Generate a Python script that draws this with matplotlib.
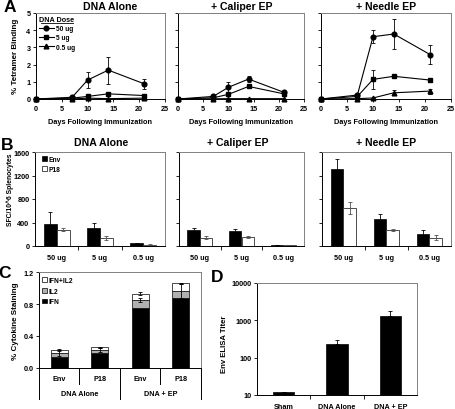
import numpy as np
import matplotlib
matplotlib.use('Agg')
from matplotlib import pyplot as plt
from matplotlib.lines import Line2D
import matplotlib.transforms as mtransforms

plt.rcParams['font.family'] = ['Liberation Sans', 'DejaVu Sans']
plt.rcParams['font.weight'] = 'bold'
plt.rcParams['axes.labelweight'] = 'bold'
plt.rcParams['axes.linewidth'] = 0.7

# ---- data: panel A, % tetramer binding ----
days = [0, 7, 10, 14, 21]
doses = ['50 ug', '5 ug', '0.5 ug']
tet_alone = [[0, 0.10, 1.10, 1.68, 0.88], [0, 0.05, 0.15, 0.30, 0.20], [0, 0.00, 0.05, 0.02, 0.05]]
tet_alone_err = [[0, 0.05, 0.47, 0.78, 0.27], [0, 0.02, 0.08, 0.08, 0.07], [0, 0, 0.02, 0.02, 0.02]]
tet_caliper = [[0, 0.15, 0.68, 1.16, 0.39], [0, 0.07, 0.27, 0.73, 0.30], [0, 0.01, 0.02, 0.02, 0.02]]
tet_caliper_err = [[0, 0.05, 0.28, 0.20, 0.08], [0, 0.03, 0.05, 0.10, 0.06], [0, 0, 0, 0, 0]]
tet_needle = [[0, 0.23, 3.62, 3.78, 2.58], [0, 0.15, 1.14, 1.32, 1.10], [0, 0.02, 0.06, 0.36, 0.46]]
tet_needle_err = [[0, 0.05, 0.38, 0.85, 0.55], [0, 0.05, 0.57, 0.10, 0.10], [0, 0.01, 0.02, 0.14, 0.15]]

# ---- data: panel B, SFC/10^6 splenocytes ----
sfc_groups = ['50 ug', '5 ug', '0.5 ug']
sfc_alone_env = [371, 314, 46]
sfc_alone_env_err = [210, 72, 12]
sfc_alone_p18 = [280, 131, 25]
sfc_alone_p18_err = [30, 35, 5]
sfc_caliper_env = [274, 257, 15]
sfc_caliper_env_err = [35, 35, 5]
sfc_caliper_p18 = [143, 154, 10]
sfc_caliper_p18_err = [20, 12, 3]
sfc_needle_env = [1313, 468, 211]
sfc_needle_env_err = [172, 75, 57]
sfc_needle_p18 = [645, 274, 143]
sfc_needle_p18_err = [97, 12, 40]

# ---- data: panel C, % cytokine staining ----
cyto_cats = ['Env', 'P18', 'Env', 'P18']
cyto_groups = ['DNA Alone', 'DNA + EP']
ifn = [0.14, 0.19, 0.75, 0.875]
il2 = [0.05, 0.04, 0.10, 0.085]
ifn_il2 = [0.035, 0.03, 0.08, 0.10]
il2_err = [0.04, 0.025, 0.03, 0.085]
tot_err = [0.012, 0.006, 0.015, 0.008]

# ---- data: panel D, Env ELISA titer ----
titer_cats = ['Sham', 'DNA Alone', 'DNA + EP']
titer = [12, 230, 1300]
titer_err = [0, 64, 470]

W, H = 456, 410
fig = plt.figure(figsize=(W / 100, H / 100), dpi=100)


def ax_px(l, t, r, b):
    return fig.add_axes([l / W, 1 - b / H, (r - l) / W, (b - t) / H])


def ftext(x, y, s, **kw):
    return fig.text(x / W, 1 - y / H, s, ha='center', va='center', **kw)


def frame(ax):
    for s in ['top', 'right']:
        ax.spines[s].set_color('#808080')
    ax.tick_params(direction='out', length=2.5, width=0.6, labelsize=5.2, pad=1.5)


TS = 5.2
markers = ['o', 's', '^']

# panel A
a_boxes = [(36, 14, 165, 100), (178, 14, 304, 100), (321, 14, 451, 100)]
a_data = [(tet_alone, tet_alone_err), (tet_caliper, tet_caliper_err), (tet_needle, tet_needle_err)]
a_titles = [(110, 'DNA Alone'), (242, '+ Caliper EP'), (386, '+ Needle EP')]
for i, box in enumerate(a_boxes):
    ax = ax_px(*box)
    vals, errs = a_data[i]
    hnd = []
    for j in range(3):
        ax.errorbar(days, vals[j], yerr=errs[j], color='black', marker=markers[j],
                    ms=3.4, lw=0.8, elinewidth=0.6, capsize=1.4, capthick=0.6, clip_on=False)
        hnd.append(Line2D([], [], color='black', marker=markers[j], ms=3.4, lw=0.8))
    ax.set_xlim(0, 25)
    ax.set_ylim(0, 5)
    ax.set_xticks([0, 5, 10, 15, 20, 25])
    ax.set_yticks([0, 1, 2, 3, 4, 5])
    frame(ax)
    if i > 0:
        ax.set_yticklabels([])
    ax.set_xlabel('Days Following Immunization', fontsize=5.3, labelpad=5)
    ftext(a_titles[i][0], 7, a_titles[i][1], fontsize=7.6)
    if i == 0:
        ax.legend(hnd, doses, loc='upper left', bbox_to_anchor=(39 / W, 1 - 26 / H),
                  bbox_transform=fig.transFigure, frameon=False, fontsize=4.8,
                  handlelength=2.2, handletextpad=0.3, labelspacing=0.35,
                  borderpad=0, borderaxespad=0)
        ftext(57, 20, 'DNA Dose', fontsize=5.2)
        fig.add_artist(Line2D([41 / W, 73 / W], [1 - 24 / H, 1 - 24 / H], color='black', lw=0.6))

ftext(10, 8, 'A', fontsize=12.5)
fig.text(16 / W, 1 - 56 / H, '% Tetramer Binding', rotation=90, ha='center', va='center', fontsize=5.8)

# panel B
b_boxes = [(35, 153, 165, 247), (179, 153, 304, 247), (322, 153, 451, 247)]
b_data = [(sfc_alone_env, sfc_alone_env_err, sfc_alone_p18, sfc_alone_p18_err),
          (sfc_caliper_env, sfc_caliper_env_err, sfc_caliper_p18, sfc_caliper_p18_err),
          (sfc_needle_env, sfc_needle_env_err, sfc_needle_p18, sfc_needle_p18_err)]
b_titles = [(101, 'DNA Alone'), (238, '+ Caliper EP'), (386, '+ Needle EP')]
x = np.arange(3)
bw = 0.3
for i, box in enumerate(b_boxes):
    ax = ax_px(*box)
    env, enve, p18, p18e = b_data[i]
    ax.bar(x - bw / 2, env, bw, color='black', edgecolor='black', lw=0.5, label='Env')
    ax.errorbar(x - bw / 2, env, yerr=enve, fmt='none', ecolor='black', elinewidth=0.6,
                capsize=1.4, capthick=0.6)
    ax.bar(x + bw / 2, p18, bw, color='white', edgecolor='#303030', lw=0.6, label='P18')
    ax.errorbar(x + bw / 2, p18, yerr=p18e, fmt='none', ecolor='#505050', elinewidth=0.6,
                capsize=1.4, capthick=0.6)
    ax.set_xlim(-0.5, 2.5)
    ax.set_ylim(0, 1600)
    ax.set_yticks([0, 400, 800, 1200, 1600])
    ax.set_xticks(x)
    ax.set_xticklabels(sfc_groups)
    ax.set_xticks([0.5, 1.5], minor=True)
    frame(ax)
    ax.tick_params(axis='x', which='major', length=0, pad=6)
    ax.tick_params(axis='x', which='minor', direction='out', length=3, width=0.6)
    if i > 0:
        ax.set_yticklabels([])
    ftext(b_titles[i][0], 143, b_titles[i][1], fontsize=7.6)
    if i == 0:
        ax.legend(loc='upper left', bbox_to_anchor=(42 / W, 1 - 157 / H),
                  bbox_transform=fig.transFigure, frameon=False, fontsize=4.8,
                  handlelength=0.7, handleheight=0.7, handletextpad=0.3,
                  labelspacing=0.45, borderpad=0, borderaxespad=0)

ftext(7, 145, 'B', fontsize=12.5)
fig.text(10 / W, 1 - 190 / H, 'SFC/10^6 Splenocytes', rotation=90, ha='center', va='center', fontsize=4.9)

# panel C
ax = ax_px(39, 273, 201, 369)
xc = np.arange(4)
cw = 0.42
il2_base = np.array(ifn)
tot_base = il2_base + np.array(il2)
ax.bar(xc, ifn, cw, color='black', edgecolor='black', lw=0.5, label='IFN')
ax.bar(xc, il2, cw, bottom=il2_base, color='#b0b0b0', edgecolor='black', lw=0.5, label='IL2')
ax.bar(xc, ifn_il2, cw, bottom=tot_base, color='white', edgecolor='black', lw=0.5, label='IFN+IL2')
ax.errorbar(xc, tot_base, yerr=il2_err, fmt='none', ecolor='black', elinewidth=0.6,
            capsize=1.4, capthick=0.6)
ax.errorbar(xc, tot_base + np.array(ifn_il2), yerr=tot_err, fmt='none', ecolor='black',
            elinewidth=0.6, capsize=1.4, capthick=0.6)
ax.set_xlim(-0.5, 3.5)
ax.set_ylim(0, 1.2)
ax.set_yticks([0, 0.4, 0.8, 1.2])
ax.set_yticklabels(['0.0', '0.4', '0.8', '1.2'])
frame(ax)
ax.set_xticks([])
trans = mtransforms.blended_transform_factory(ax.transData, ax.transAxes)
for k, c in enumerate(cyto_cats):
    ax.text(k, -11 / 96, c, transform=trans, ha='center', va='center', fontsize=TS)
for k, g in enumerate(cyto_groups):
    ax.text(0.5 + 2 * k, -26 / 96, g, transform=trans, ha='center', va='center', fontsize=TS)
for xv, yb in [(-0.5, -31 / 96), (0.5, -16 / 96), (1.5, -31 / 96), (2.5, -16 / 96), (3.5, -31 / 96)]:
    ax.plot([xv, xv], [0, yb], transform=trans, color='black', lw=0.7, clip_on=False)
h, l = ax.get_legend_handles_labels()
ax.legend(h[::-1], l[::-1], loc='upper left', bbox_to_anchor=(42 / W, 1 - 278 / H),
          bbox_transform=fig.transFigure, frameon=False, fontsize=4.8,
          handlelength=0.7, handleheight=0.7, handletextpad=0.3,
          labelspacing=0.55, borderpad=0, borderaxespad=0)
ftext(5, 273, 'C', fontsize=12.5)
fig.text(16 / W, 1 - 321 / H, '% Cytokine Staining', rotation=90, ha='center', va='center', fontsize=5.8)

# panel D
ax = ax_px(257, 284, 417, 396)
xd = np.arange(3)
ax.bar(xd, titer, 0.4, color='black', edgecolor='black', lw=0.5)
ax.errorbar(xd, titer, yerr=[np.zeros(3), titer_err], fmt='none', ecolor='black',
            elinewidth=0.6, capsize=1.4, capthick=0.6)
ax.set_yscale('log')
ax.set_ylim(10, 10000)
ax.set_yticks([10, 100, 1000, 10000])
ax.set_yticklabels(['10', '100', '1000', '10000'])
ax.yaxis.set_minor_locator(matplotlib.ticker.NullLocator())
ax.set_xlim(-0.5, 2.5)
ax.set_xticks(xd)
ax.set_xticklabels(titer_cats)
ax.set_xticks([0.5, 1.5], minor=True)
frame(ax)
ax.tick_params(axis='x', which='major', length=0, pad=6)
ax.tick_params(axis='x', which='minor', direction='out', length=3, width=0.6)
ftext(217, 277, 'D', fontsize=12.5)
fig.text(225 / W, 1 - 344 / H, 'Env ELISA Titer', rotation=90, ha='center', va='center', fontsize=5.6)

fig.savefig('out.png', dpi=100)
